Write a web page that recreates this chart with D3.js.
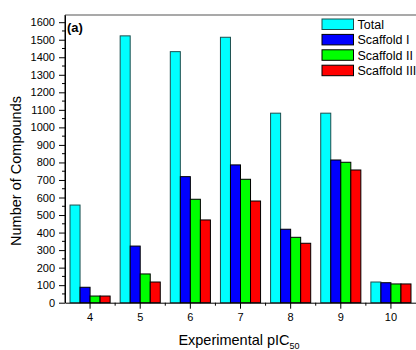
<!DOCTYPE html>
<html>
<head>
<meta charset="utf-8">
<script src="https://cdn.jsdelivr.net/npm/d3@7"></script>
<style>
  body { margin: 0; background: #fff; }
  svg { display: block; font-family: "Liberation Sans", Arial, sans-serif; }
</style>
</head>
<body>
<svg id="chart" width="416" height="350"></svg>
<script>
const categories = ["4", "5", "6", "7", "8", "9", "10"];
const seriesNames = ["Total", "Scaffold I", "Scaffold II", "Scaffold III"];
const totalVals = [557, 1522, 1432, 1514, 1081, 1081, 118];
const scaffold1Vals = [88, 323, 719, 786, 419, 814, 114];
const scaffold2Vals = [38, 164, 590, 704, 373, 801, 107];
const scaffold3Vals = [38, 118, 472, 580, 339, 757, 107];
const yTicks = d3.range(0, 1601, 100);
const yMinor = d3.range(50, 1600, 100);

const seriesVals = [totalVals, scaffold1Vals, scaffold2Vals, scaffold3Vals];
const fills = ["#00ffff", "#0000ff", "#00ff00", "#ff0000"];
const strokes = ["#1d4f4f", "#000", "#000", "#000"];

const svg = d3.select("#chart");
const L = 65, R = 416, T = 15, B = 302.7;

const x0 = d3.scaleBand().domain(categories).range([L, R])
  .paddingInner(0.2).paddingOuter(0.1);
const x1 = d3.scaleBand().domain(seriesNames).range([0, x0.bandwidth()]);
const y = d3.scaleLinear().domain([0, 1641]).range([B, T]);

// bars
seriesNames.forEach((s, si) => {
  svg.append("g").selectAll("rect")
    .data(seriesVals[si])
    .enter().append("rect")
    .attr("x", (d, i) => x0(categories[i]) + x1(s))
    .attr("y", d => y(d))
    .attr("width", x1.bandwidth())
    .attr("height", d => B - y(d))
    .attr("fill", fills[si])
    .attr("stroke", strokes[si])
    .attr("stroke-width", 1);
});

// frame top
svg.append("line").attr("x1", L).attr("x2", R).attr("y1", T).attr("y2", T)
  .attr("stroke", "#555").attr("stroke-width", 1.2);

// y axis
const yAxis = svg.append("g").attr("transform", `translate(${L},0)`)
  .call(d3.axisLeft(y).tickValues(yTicks).tickFormat(d3.format("d"))
    .tickSize(6).tickPadding(4).tickSizeOuter(0));
yAxis.selectAll("text").attr("font-size", 11).attr("fill", "#000");
yAxis.select(".domain").attr("stroke", "#000");
svg.append("g").selectAll("line").data(yMinor).enter().append("line")
  .attr("x1", L - 3).attr("x2", L).attr("y1", d => y(d)).attr("y2", d => y(d))
  .attr("stroke", "#000");
svg.append("line").attr("x1", L).attr("x2", L).attr("y1", T).attr("y2", B)
  .attr("stroke", "#000");

// x axis
const xCenter = c => x0(c) + x0.bandwidth() / 2;
const xAxis = svg.append("g").attr("transform", `translate(0,${B})`)
  .call(d3.axisBottom(x0).tickSize(6).tickPadding(5).tickSizeOuter(0));
xAxis.selectAll("text").attr("font-size", 11).attr("fill", "#000");
xAxis.select(".domain").attr("stroke", "#000");
svg.append("g").selectAll("line").data(categories.slice(1)).enter().append("line")
  .attr("x1", d => xCenter(d) - x0.step() / 2).attr("x2", d => xCenter(d) - x0.step() / 2)
  .attr("y1", B).attr("y2", B + 3).attr("stroke", "#000");

// panel label
svg.append("text").attr("x", 67).attr("y", 31.5)
  .attr("font-size", 13).attr("font-weight", "bold").text("(a)");

// legend
const lg = svg.append("g");
seriesNames.forEach((s, i) => {
  const yy = 19 + i * 15.4;
  lg.append("rect").attr("x", 322).attr("y", yy).attr("width", 31.5).attr("height", 10.5)
    .attr("fill", fills[i]).attr("stroke", strokes[i]);
  lg.append("text").attr("x", 357.5).attr("y", yy + 9.8)
    .attr("font-size", 12.5).text(s);
});

// axis titles
svg.append("text").attr("transform", "translate(20.5,171) rotate(-90)")
  .attr("text-anchor", "middle").attr("font-size", 14.5).text("Number of Compounds");
const xt = svg.append("text").attr("x", 239).attr("y", 344.5)
  .attr("text-anchor", "middle").attr("font-size", 14.5);
xt.append("tspan").text("Experimental pIC");
xt.append("tspan").attr("font-size", 9).attr("dy", 4).text("50");
</script>
</body>
</html>
